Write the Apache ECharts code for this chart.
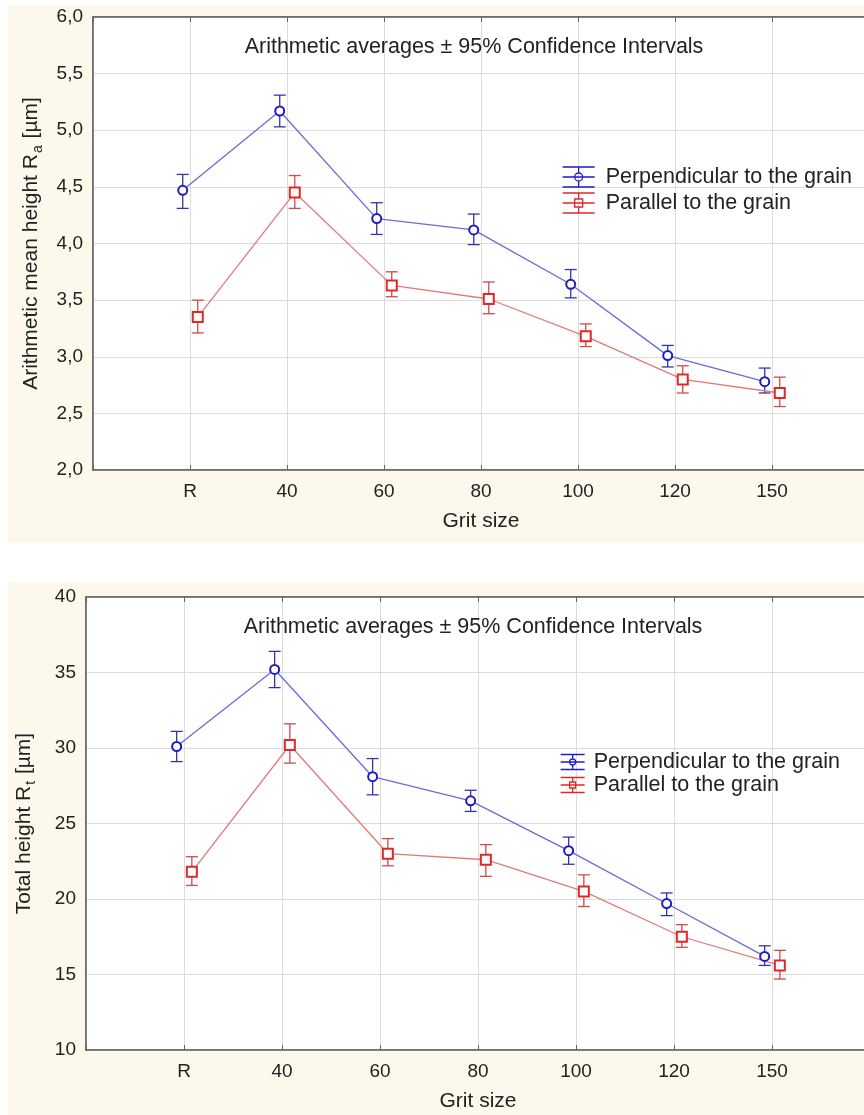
<!DOCTYPE html>
<html lang="en">
<head>
<meta charset="UTF-8">
<title>Ra and Rt by grit size</title>
<script src="https://cdn.jsdelivr.net/npm/echarts@6/dist/echarts.min.js"></script>
<style>
  body { margin: 0; background: #fff; }
  .panel { position: absolute; left: 8px; width: 856px; background: #fdf8ec; }
  #chart { position: absolute; left: 0; top: 0; width: 864px; height: 1115px; }
</style>
</head>
<body>
<div class="panel" style="top:5px;height:538px"></div>
<div class="panel" style="top:582px;height:533px"></div>
<div id="chart"></div>
<script>
  // grit sizes on the x axis
  var gritSizes = ['R', '40', '60', '80', '100', '120', '150'];

  // Ra [um], mean and 95% CI
  var raPerpMean = [4.47, 5.17, 4.22, 4.12, 3.64, 3.01, 2.78];
  var raPerpLow  = [4.31, 5.03, 4.08, 3.99, 3.52, 2.91, 2.68];
  var raPerpHigh = [4.61, 5.31, 4.36, 4.26, 3.77, 3.10, 2.90];
  var raParMean  = [3.35, 4.45, 3.63, 3.51, 3.18, 2.80, 2.68];
  var raParLow   = [3.21, 4.31, 3.53, 3.38, 3.09, 2.68, 2.56];
  var raParHigh  = [3.50, 4.60, 3.75, 3.66, 3.29, 2.92, 2.82];

  // Rt [um], mean and 95% CI
  var rtPerpMean = [30.1, 35.2, 28.1, 26.5, 23.2, 19.7, 16.2];
  var rtPerpLow  = [29.1, 34.0, 26.9, 25.8, 22.3, 18.9, 15.6];
  var rtPerpHigh = [31.1, 36.4, 29.3, 27.2, 24.1, 20.4, 16.9];
  var rtParMean  = [21.8, 30.2, 23.0, 22.6, 20.5, 17.5, 15.6];
  var rtParLow   = [20.9, 29.0, 22.2, 21.5, 19.5, 16.8, 14.7];
  var rtParHigh  = [22.8, 31.6, 24.0, 23.6, 21.6, 18.3, 16.6];

  var PERP = 'Perpendicular to the grain';
  var PAR = 'Parallel to the grain';
  var TITLE = 'Arithmetic averages \u00b1 95% Confidence Intervals';

  var FONT = 'Liberation Sans, Arial, sans-serif';
  var perpDark = '#1d1dc4', perpLine = '#6b6bd6', perpBar = '#3535a6';
  var parDark = '#e02828', parLine = '#e27a7a', parBar = '#cf4a4a';
  // the two groups are drawn a little apart around each grit size
  var perpShift = -0.075, parShift = 0.08;

  function pts(vals, shift) {
    return vals.map(function (v, i) { return [i + 1 + shift, v]; });
  }
  function bars(lo, hi, shift) {
    return lo.map(function (v, i) { return [i + 1 + shift, v, hi[i]]; });
  }

  function errorBars(color, cap) {
    return function (params, api) {
      var x = api.value(0);
      var a = api.coord([x, api.value(1)]);
      var b = api.coord([x, api.value(2)]);
      var st = { stroke: color, lineWidth: 1.3 };
      return {
        type: 'group',
        children: [
          { type: 'line', shape: { x1: a[0], y1: a[1], x2: b[0], y2: b[1] }, style: st },
          { type: 'line', shape: { x1: a[0] - cap, y1: a[1], x2: a[0] + cap, y2: a[1] }, style: st },
          { type: 'line', shape: { x1: b[0] - cap, y1: b[1], x2: b[0] + cap, y2: b[1] }, style: st }
        ]
      };
    };
  }

  var iconCircle = 'path://M0,1H32M0,11H32M0,21H32M16,1V7M16,15V21M20,11A4,4 0 1 1 12,11A4,4 0 1 1 20,11Z';
  var iconSquare = 'path://M0,1H32M0,11H32M0,21H32M16,1V7M16,15V21M12,7H20V15H12Z';

  function xAxes(gi) {
    return [{
      type: 'value', gridIndex: gi, min: 0, max: 8, interval: 1,
      name: 'Grit size', nameLocation: 'middle', nameGap: 41,
      nameTextStyle: { fontFamily: FONT, fontSize: 21, color: '#222' },
      axisLine: { lineStyle: { color: '#666', width: 1.5 } },
      axisTick: { inside: true, length: 5, lineStyle: { color: '#666' } },
      axisLabel: {
        margin: 12, fontFamily: FONT, fontSize: 19, color: '#222',
        formatter: function (v) { return gritSizes[v - 1] || ''; }
      },
      splitLine: { lineStyle: { color: '#dcdcdc' } }
    }, {
      type: 'value', gridIndex: gi, min: 0, max: 8, interval: 1, position: 'top',
      axisLine: { lineStyle: { color: '#666', width: 1.5 } },
      axisTick: { inside: true, length: 5, lineStyle: { color: '#666' } },
      axisLabel: { show: false }, splitLine: { show: false }
    }];
  }

  function yAxis(gi, min, max, step, name, fmt) {
    return {
      type: 'value', gridIndex: gi, min: min, max: max, interval: step,
      name: name, nameLocation: 'middle', nameGap: 48,
      nameTextStyle: {
        color: '#222',
        rich: {
          n: { fontFamily: FONT, fontSize: 21, color: '#222' },
          s: { fontFamily: FONT, fontSize: 14, color: '#222', padding: [13, 1, 0, 1] }
        }
      },
      axisLine: { show: true, lineStyle: { color: '#666', width: 1.5 } },
      axisTick: { show: false },
      axisLabel: { margin: 10, fontFamily: FONT, fontSize: 19, color: '#222', formatter: fmt },
      splitLine: { lineStyle: { color: '#dcdcdc' } }
    };
  }

  function lineSeries(name, data, gi, lineColor, dark, symbol, size) {
    return {
      name: name + ' mean', type: 'line', xAxisIndex: gi * 2, yAxisIndex: gi,
      data: data, symbol: symbol, symbolSize: size, z: 4,
      lineStyle: { color: lineColor, width: 1.3 },
      itemStyle: { color: dark, borderColor: dark, borderWidth: 2 }
    };
  }

  function barSeries(name, data, gi, color, cap) {
    return {
      name: name, type: 'custom', xAxisIndex: gi * 2, yAxisIndex: gi,
      data: data, renderItem: errorBars(color, cap), z: 3,
      itemStyle: { color: color }
    };
  }

  function legend(top, left, w, h, gap, pad) {
    return {
      orient: 'vertical', top: top, left: left, itemWidth: w, itemHeight: h,
      itemGap: gap, selectedMode: false, padding: 0,
      textStyle: { fontFamily: FONT, fontSize: 21.5, color: '#222', padding: [0, 0, 0, pad] },
      data: [
        { name: PERP, icon: iconCircle,
          itemStyle: { color: 'transparent', borderColor: perpDark, borderWidth: 1.3 } },
        { name: PAR, icon: iconSquare,
          itemStyle: { color: 'transparent', borderColor: parDark, borderWidth: 1.3 } }
      ]
    };
  }

  var chart = echarts.init(document.getElementById('chart'));
  var option = {
    backgroundColor: 'transparent',
    animation: false,
    title: [
      { text: TITLE, left: 469, top: 31, textAlign: 'center',
        textStyle: { fontFamily: FONT, fontSize: 21.5, fontWeight: 'normal', color: '#222' } },
      { text: TITLE, left: 468, top: 611, textAlign: 'center',
        textStyle: { fontFamily: FONT, fontSize: 21.5, fontWeight: 'normal', color: '#222' } }
    ],
    legend: [legend(166, 562, 32, 22, 4, 6), legend(751, 560, 24, 16, 1, 4)],
    grid: [
      { left: 93, top: 17, width: 776, height: 453, show: true, outerBoundsMode: 'none',
        backgroundColor: '#fff', borderColor: '#666', borderWidth: 1.5 },
      { left: 86, top: 597, width: 784, height: 453, show: true, outerBoundsMode: 'none',
        backgroundColor: '#fff', borderColor: '#666', borderWidth: 1.5 }
    ],
    xAxis: xAxes(0).concat(xAxes(1)),
    yAxis: [
      yAxis(0, 2, 6, 0.5, '{n|Arithmetic mean height R}{s|a}{n| [\u00b5m]}',
        function (v) { return v.toFixed(1).replace('.', ','); }),
      yAxis(1, 10, 40, 5, '{n|Total height R}{s|t}{n| [\u00b5m]}',
        function (v) { return String(v); })
    ],
    series: [
      barSeries(PERP, bars(raPerpLow, raPerpHigh, perpShift), 0, perpBar, 6),
      barSeries(PAR, bars(raParLow, raParHigh, parShift), 0, parBar, 6),
      lineSeries(PERP, pts(raPerpMean, perpShift), 0, perpLine, perpDark, 'emptyCircle', 9),
      lineSeries(PAR, pts(raParMean, parShift), 0, parLine, parDark, 'emptyRect', 10),
      barSeries(PERP, bars(rtPerpLow, rtPerpHigh, perpShift), 1, perpBar, 6),
      barSeries(PAR, bars(rtParLow, rtParHigh, parShift), 1, parBar, 6),
      lineSeries(PERP, pts(rtPerpMean, perpShift), 1, perpLine, perpDark, 'emptyCircle', 9),
      lineSeries(PAR, pts(rtParMean, parShift), 1, parLine, parDark, 'emptyRect', 10)
    ]
  };
  chart.setOption(option);
</script>
</body>
</html>
